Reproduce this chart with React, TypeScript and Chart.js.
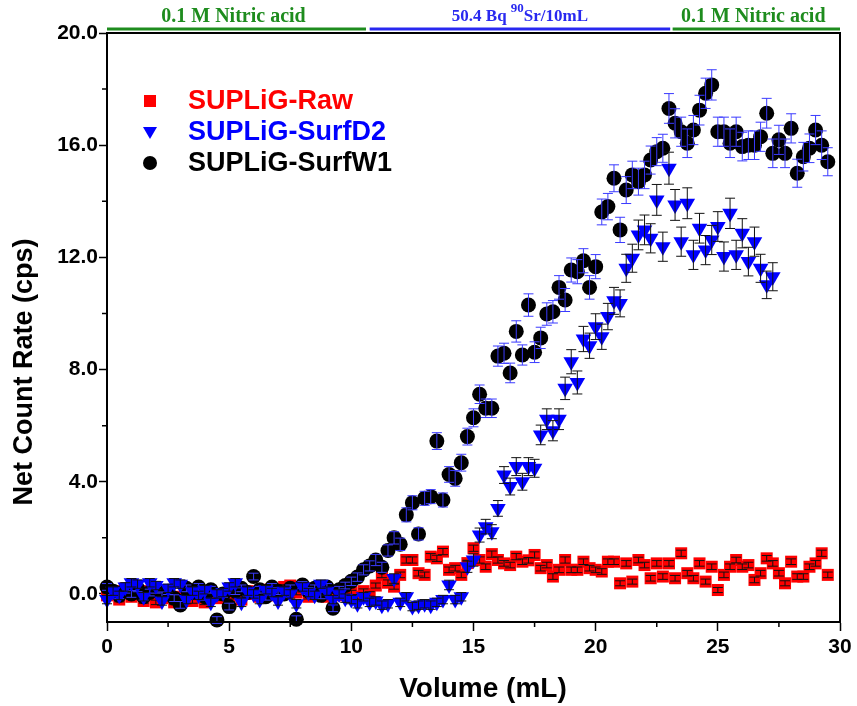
import React, { useEffect, useRef } from "react";
import { Chart, registerables } from "chart.js";

Chart.register(...registerables);

// ---------- data ----------
const VOLUME = [
  0, 0.25, 0.5, 0.75, 1, 1.25, 1.5, 1.75, 2, 2.25,
  2.5, 2.75, 3, 3.25, 3.5, 3.75, 4, 4.25, 4.5, 4.75,
  5, 5.25, 5.5, 5.75, 6, 6.25, 6.5, 6.75, 7, 7.25,
  7.5, 7.75, 8, 8.25, 8.5, 8.75, 9, 9.25, 9.5, 9.75,
  10, 10.25, 10.5, 10.75, 11, 11.25, 11.5, 11.75, 12, 12.25,
  12.5, 12.75, 13, 13.25, 13.5, 13.75, 14, 14.25, 14.5, 14.75,
  15, 15.25, 15.5, 15.75, 16, 16.25, 16.5, 16.75, 17, 17.25,
  17.5, 17.75, 18, 18.25, 18.5, 18.75, 19, 19.25, 19.5, 19.75,
  20, 20.25, 20.5, 20.75, 21, 21.25, 21.5, 21.75, 22, 22.25,
  22.5, 22.75, 23, 23.25, 23.5, 23.75, 24, 24.25, 24.5, 24.75,
  25, 25.25, 25.5, 25.75, 26, 26.25, 26.5, 26.75, 27, 27.25,
  27.5, 27.75, 28, 28.25, 28.5, 28.75, 29, 29.25, 29.5,
];

const RAW = [
  -0.05, 0.1, -0.2, 0.2, -0.1, 0.05, -0.25, 0.1, -0.3, -0.15,
  0.05, -0.3, -0.1, 0.15, -0.25, -0.05, -0.3, 0.1, -0.15, 0.0,
  -0.1, 0.05, -0.2, 0.1, 0.0, -0.1, 0.15, -0.05, 0.1, 0.25,
  0.3, 0.05, 0.15, -0.1, 0.2, 0.05, -0.1, 0.1, -0.05, 0.0,
  0.05, -0.1, 0.1, 0.0, 0.3, 0.68, 0.4, 0.26, 0.68, 1.21,
  1.21, 0.74, 0.68, 1.33, 1.27, 1.51, 0.86, 0.92, 0.68, 1.1,
  1.63, 1.21, 0.97, 1.42, 1.21, 1.09, 1.03, 1.33, 1.15, 1.2,
  1.39, 0.92, 1.03, 0.62, 0.86, 1.21, 0.86, 0.86, 1.15, 0.92,
  0.86, 0.8, 1.15, 1.15, 0.38, 1.09, 0.44, 1.21, 1.03, 0.56,
  1.09, 0.62, 1.09, 0.56, 1.45, 0.74, 0.56, 1.09, 0.44, 0.97,
  0.14, 0.68, 0.97, 1.21, 0.97, 1.03, 0.5, 0.74, 1.27, 1.09,
  0.74, 0.38, 1.15, 0.62, 0.62, 0.97, 1.09, 1.45, 0.68,
];
const RAW_ERR = [
  0.08, 0.08, 0.08, 0.08, 0.08, 0.08, 0.08, 0.08, 0.08, 0.08,
  0.08, 0.08, 0.08, 0.08, 0.08, 0.08, 0.08, 0.08, 0.08, 0.08,
  0.08, 0.08, 0.08, 0.08, 0.08, 0.08, 0.08, 0.08, 0.08, 0.08,
  0.08, 0.08, 0.08, 0.08, 0.08, 0.08, 0.08, 0.08, 0.08, 0.08,
  0.08, 0.08, 0.08, 0.08, 0.09, 0.1, 0.1, 0.09, 0.1, 0.11,
  0.11, 0.1, 0.1, 0.11, 0.11, 0.11, 0.1, 0.1, 0.1, 0.1,
  0.11, 0.11, 0.1, 0.11, 0.11, 0.1, 0.1, 0.11, 0.1, 0.1,
  0.11, 0.1, 0.1, 0.1, 0.1, 0.11, 0.1, 0.1, 0.1, 0.1,
  0.1, 0.1, 0.1, 0.1, 0.09, 0.1, 0.09, 0.1, 0.1, 0.1,
  0.1, 0.1, 0.1, 0.1, 0.11, 0.1, 0.1, 0.1, 0.09, 0.1,
  0.09, 0.1, 0.1, 0.1, 0.1, 0.1, 0.1, 0.1, 0.1, 0.1,
  0.1, 0.09, 0.1, 0.1, 0.1, 0.1, 0.1, 0.11, 0.1,
];

const SURF_D2 = [
  -0.2, 0.1, -0.05, 0.25, 0.4, 0.35, -0.1, 0.4, 0.3, -0.25,
  0.2, 0.4, 0.35, -0.2, 0.1, -0.05, 0.15, -0.3, 0.0, 0.05,
  0.25, 0.4, -0.3, 0.1, 0.0, -0.2, 0.15, 0.05, -0.25, 0.1,
  0.0, -0.35, 0.25, 0.05, -0.05, 0.35, 0.1, -0.2, 0.0, -0.15,
  -0.2, -0.35, -0.1, -0.3, -0.25, -0.4, -0.35, 0.55, -0.3, -0.1,
  -0.45, -0.4, -0.35, -0.4, -0.3, -0.2, 0.32, -0.2, -0.1, 0.97,
  1.21, 2.1, 2.4, 2.22, 3.05, 4.24, 3.83, 4.54, 4.0, 4.54,
  4.48, 5.67, 6.23, 5.82, 6.23, 7.33, 8.28, 7.54, 9.09, 8.85,
  9.53, 9.17, 9.89, 10.45, 10.36, 11.61, 11.97, 12.8, 12.98, 12.68,
  14.05, 12.38, 15.18, 13.87, 12.56, 13.93, 12.09, 13.04, 12.26, 12.62,
  13.1, 12.03, 13.57, 12.09, 12.86, 11.85, 12.56, 11.61, 11.02, 11.31,
  null, null, null, null, null, null, null, null, null,
];
const SURF_D2_ERR = [
  0.15, 0.15, 0.15, 0.15, 0.15, 0.15, 0.15, 0.15, 0.15, 0.15,
  0.15, 0.15, 0.15, 0.15, 0.15, 0.15, 0.15, 0.15, 0.15, 0.15,
  0.15, 0.15, 0.15, 0.15, 0.15, 0.15, 0.15, 0.15, 0.15, 0.15,
  0.15, 0.15, 0.15, 0.15, 0.15, 0.15, 0.15, 0.15, 0.15, 0.15,
  0.15, 0.15, 0.15, 0.15, 0.15, 0.15, 0.15, 0.17, 0.15, 0.15,
  0.15, 0.15, 0.15, 0.15, 0.15, 0.15, 0.17, 0.15, 0.15, 0.2,
  0.22, 0.25, 0.26, 0.25, 0.28, 0.3, 0.3, 0.32, 0.3, 0.32,
  0.32, 0.35, 0.37, 0.36, 0.37, 0.4, 0.43, 0.41, 0.45, 0.45,
  0.46, 0.45, 0.47, 0.48, 0.48, 0.5, 0.5, 0.53, 0.53, 0.52,
  0.55, 0.52, 0.57, 0.55, 0.52, 0.55, 0.52, 0.53, 0.52, 0.52,
  0.53, 0.52, 0.54, 0.52, 0.52, 0.51, 0.52, 0.5, 0.49, 0.5,
  null, null, null, null, null, null, null, null, null,
];

const SURF_W1 = [
  0.25, 0.1, -0.05, 0.15, 0.0, 0.2, -0.1, 0.05, 0.15, -0.05,
  0.1, -0.15, -0.39, 0.2, 0.05, 0.25, -0.1, 0.15, -0.93, 0.0,
  -0.45, 0.1, 0.2, 0.05, 0.62, 0.15, -0.1, 0.25, 0.1, 0.0,
  0.2, -0.9, 0.32, 0.1, 0.2, -0.05, 0.25, -0.51, 0.15, 0.3,
  0.45, 0.6, 0.86, 1.0, 1.21, 0.95, 1.55, 2.0, 1.77, 2.82,
  3.25, 2.14, 3.41, 3.47, 5.45, 3.35, 4.26, 4.12, 4.68, 5.61,
  6.28, 7.12, 6.62, 6.62, 8.48, 8.58, 7.88, 9.36, 8.52, 10.3,
  8.62, 9.13, 9.98, 10.06, 10.93, 10.48, 11.55, 11.49, 11.88, 10.93,
  11.67, 13.62, 13.81, 14.82, 12.98, 14.4, 14.94, 14.7, 14.94, 15.47,
  15.77, 15.89, 17.31, 16.78, 16.48, 16.07, 16.54, 17.25, 17.85, 18.15,
  16.48, 16.48, 16.07, 16.48, 15.95, 16.0, 16.0, 16.3, 17.14, 15.71,
  16.19, 15.71, 16.6, 15.0, 15.59, 15.89, 16.54, 16.0, 15.41,
];
const SURF_W1_ERR = [
  0.12, 0.12, 0.12, 0.12, 0.12, 0.12, 0.12, 0.12, 0.12, 0.12,
  0.12, 0.12, 0.12, 0.12, 0.12, 0.12, 0.12, 0.12, 0.12, 0.12,
  0.12, 0.12, 0.12, 0.12, 0.12, 0.12, 0.12, 0.12, 0.12, 0.12,
  0.12, 0.12, 0.12, 0.12, 0.12, 0.12, 0.12, 0.12, 0.12, 0.12,
  0.15, 0.15, 0.18, 0.18, 0.2, 0.18, 0.2, 0.22, 0.22, 0.25,
  0.25, 0.22, 0.25, 0.25, 0.3, 0.25, 0.28, 0.28, 0.3, 0.3,
  0.32, 0.33, 0.33, 0.33, 0.36, 0.36, 0.35, 0.38, 0.36, 0.4,
  0.37, 0.38, 0.4, 0.4, 0.42, 0.41, 0.43, 0.43, 0.43, 0.42,
  0.43, 0.46, 0.47, 0.48, 0.45, 0.48, 0.49, 0.48, 0.49, 0.5,
  0.5, 0.5, 0.53, 0.52, 0.52, 0.51, 0.52, 0.53, 0.54, 0.54,
  0.52, 0.52, 0.51, 0.52, 0.51, 0.51, 0.51, 0.52, 0.53, 0.51,
  0.52, 0.51, 0.52, 0.5, 0.51, 0.51, 0.52, 0.51, 0.5,
];

const SERIES_NAMES = ["SUPLiG-Raw", "SUPLiG-SurfD2", "SUPLiG-SurfW1"];
const X_TITLE = "Volume (mL)";
const Y_TITLE = "Net Count Rate (cps)";
const Y_TICKS = [0, 4, 8, 12, 16, 20];
const Y_MINOR = [2, 6, 10, 14, 18];
const X_TICKS = [0, 5, 10, 15, 20, 25, 30];
const X_MINOR = [2.5, 7.5, 12.5, 17.5, 22.5, 27.5];

// eluent phases along the top: start mL, end mL, label
const PHASE_START = [0, 10.75, 23.15];
const PHASE_END = [10.6, 23.05, 30];
const PHASE_LABELS = ["0.1 M Nitric acid", "50.4 Bq |90|Sr/10mL", "0.1 M Nitric acid"];

const RED = "#ff0000";
const BLUE = "#0000ff";
const BLACK = "#000000";
const GREEN = "#1e8c1e";
const PHASE_BLUE = "#2828f0";
const PHASE_COLORS = [GREEN, PHASE_BLUE, GREEN];

function buildPoints(vals: (number | null)[], errs: (number | null)[]) {
  const out: { x: number; y: number; e: number }[] = [];
  for (let i = 0; i < VOLUME.length; i++) {
    const v = vals[i];
    if (v === null || v === undefined) continue;
    out.push({ x: VOLUME[i], y: v, e: (errs[i] as number) || 0 });
  }
  return out;
}

const SANS = "'Liberation Sans', Arial, sans-serif";
const SERIF = "'Liberation Serif', 'Times New Roman', serif";

const customPlugin = {
  id: "customDecor",
  afterDatasetDraw(chart: any, args: any) {
    const ds = chart.data.datasets[args.index];
    const xs = chart.scales.x;
    const ys = chart.scales.y;
    const ctx = chart.ctx;
    ctx.save();
    ctx.strokeStyle = ds.errorColor;
    ctx.lineWidth = 1;
    for (const p of ds.data) {
      const px = xs.getPixelForValue(p.x);
      const t = ys.getPixelForValue(p.y + p.e);
      const b = ys.getPixelForValue(p.y - p.e);
      ctx.beginPath();
      ctx.moveTo(px, t);
      ctx.lineTo(px, b);
      ctx.moveTo(px - 5, t);
      ctx.lineTo(px + 5, t);
      ctx.moveTo(px - 5, b);
      ctx.lineTo(px + 5, b);
      ctx.stroke();
    }
    ctx.restore();
  },
  afterDraw(chart: any) {
    const ctx = chart.ctx;
    const area = chart.chartArea;
    const xs = chart.scales.x;
    const ys = chart.scales.y;
    ctx.save();
    // frame
    ctx.strokeStyle = "#000";
    ctx.lineWidth = 2;
    ctx.strokeRect(area.left, area.top, area.right - area.left, area.bottom - area.top);
    // minor ticks
    ctx.lineWidth = 1.5;
    ctx.beginPath();
    for (const v of Y_MINOR) {
      const py = ys.getPixelForValue(v);
      ctx.moveTo(area.left, py);
      ctx.lineTo(area.left - 5, py);
    }
    for (const v of X_MINOR) {
      const px = xs.getPixelForValue(v);
      ctx.moveTo(px, area.bottom);
      ctx.lineTo(px, area.bottom + 5);
    }
    ctx.stroke();

    // axis titles
    ctx.fillStyle = "#000";
    ctx.textAlign = "center";
    ctx.textBaseline = "middle";
    ctx.font = `bold 28px ${SANS}`;
    ctx.fillText(X_TITLE, 483, 689);
    ctx.save();
    ctx.translate(25, 372);
    ctx.rotate(-Math.PI / 2);
    ctx.font = `bold 27px ${SANS}`;
    ctx.fillText(Y_TITLE, 0, 0);
    ctx.restore();

    // phase bars along the top
    const lineY = area.top - 4;
    for (let i = 0; i < PHASE_LABELS.length; i++) {
      const x1 = xs.getPixelForValue(PHASE_START[i]);
      const x2 = xs.getPixelForValue(PHASE_END[i]);
      ctx.strokeStyle = PHASE_COLORS[i];
      ctx.lineWidth = 3;
      ctx.beginPath();
      ctx.moveTo(x1, lineY);
      ctx.lineTo(x2, lineY);
      ctx.stroke();
      const cx = (x1 + x2) / 2;
      ctx.fillStyle = PHASE_COLORS[i];
      ctx.textBaseline = "alphabetic";
      const parts = PHASE_LABELS[i].split("|");
      if (parts.length === 1) {
        ctx.font = `bold 20px ${SERIF}`;
        ctx.textAlign = "center";
        ctx.fillText(parts[0], cx - 3, 22);
      } else {
        const mainFont = `bold 17px ${SERIF}`;
        const supFont = `bold 13px ${SERIF}`;
        ctx.font = mainFont;
        const w0 = ctx.measureText(parts[0]).width;
        const w2 = ctx.measureText(parts[2]).width;
        ctx.font = supFont;
        const w1 = ctx.measureText(parts[1]).width;
        let x = cx - (w0 + w1 + w2) / 2;
        ctx.textAlign = "left";
        ctx.font = mainFont;
        ctx.fillText(parts[0], x, 21);
        x += w0;
        ctx.font = supFont;
        ctx.fillText(parts[1], x, 12);
        x += w1;
        ctx.font = mainFont;
        ctx.fillText(parts[2], x, 21);
      }
    }

    // legend
    const legendColors = [RED, BLUE, BLACK];
    const legendY = [101, 132, 163];
    const mx = 150;
    for (let i = 0; i < SERIES_NAMES.length; i++) {
      const y = legendY[i];
      ctx.fillStyle = legendColors[i];
      ctx.beginPath();
      if (i === 0) {
        ctx.rect(mx - 6, y - 6, 12, 12);
      } else if (i === 1) {
        ctx.moveTo(mx - 7, y - 5);
        ctx.lineTo(mx + 7, y - 5);
        ctx.lineTo(mx, y + 7);
        ctx.closePath();
      } else {
        ctx.arc(mx, y, 7, 0, Math.PI * 2);
      }
      ctx.fill();
      ctx.font = `bold 27px ${SANS}`;
      ctx.textAlign = "left";
      ctx.textBaseline = "middle";
      ctx.fillText(SERIES_NAMES[i], 188, y + 1);
    }
    ctx.restore();
  },
};

export default function App() {
  const ref = useRef<HTMLCanvasElement | null>(null);
  useEffect(() => {
    if (!ref.current) return;
    const tickFont = { family: SANS, size: 21, weight: "bold" as const };
    const chart = new Chart(ref.current, {
      type: "scatter",
      data: {
        datasets: [
          {
            label: SERIES_NAMES[1],
            data: buildPoints(SURF_D2, SURF_D2_ERR),
            pointStyle: "triangle",
            rotation: 180,
            pointRadius: 9,
            pointBackgroundColor: BLUE,
            pointBorderColor: BLUE,
            pointBorderWidth: 0,
            showLine: false,
            order: 0,
            clip: false,
            errorColor: "#111111",
          } as any,
          {
            label: SERIES_NAMES[2],
            data: buildPoints(SURF_W1, SURF_W1_ERR),
            pointStyle: "circle",
            pointRadius: 7.5,
            pointBackgroundColor: BLACK,
            pointBorderColor: BLACK,
            pointBorderWidth: 0,
            showLine: false,
            order: 1,
            clip: false,
            errorColor: "#3a3aff",
          } as any,
          {
            label: SERIES_NAMES[0],
            data: buildPoints(RAW, RAW_ERR),
            pointStyle: "rect",
            pointRadius: 8.5,
            pointBackgroundColor: RED,
            pointBorderColor: RED,
            pointBorderWidth: 0,
            showLine: false,
            order: 2,
            clip: false,
            errorColor: "#111111",
          } as any,
        ],
      },
      options: {
        responsive: false,
        animation: false,
        events: [],
        layout: { padding: { left: 0, top: 33, right: 17, bottom: 0 } },
        plugins: {
          legend: { display: false },
          tooltip: { enabled: false },
        },
        scales: {
          x: {
            type: "linear",
            min: 0,
            max: 30,
            afterBuildTicks: (s: any) => {
              s.ticks = X_TICKS.map((v) => ({ value: v }));
            },
            afterFit: (s: any) => {
              s.height = 84;
            },
            ticks: {
              color: "#000",
              font: tickFont,
              padding: 4,
              maxRotation: 0,
              autoSkip: false,
              callback: (v: any) => String(v),
            },
            grid: {
              drawOnChartArea: false,
              drawTicks: true,
              tickLength: 9,
              tickWidth: 1.5,
              tickColor: "#000",
            },
            border: { display: true, color: "#000", width: 2 },
            title: { display: false },
          },
          y: {
            type: "linear",
            min: -1,
            max: 20,
            afterBuildTicks: (s: any) => {
              s.ticks = Y_TICKS.map((v) => ({ value: v }));
            },
            afterFit: (s: any) => {
              s.width = 107;
            },
            ticks: {
              color: "#000",
              font: tickFont,
              padding: 1,
              autoSkip: false,
              callback: (v: any) => Number(v).toFixed(1),
            },
            grid: {
              drawOnChartArea: false,
              drawTicks: true,
              tickLength: 8,
              tickWidth: 1.5,
              tickColor: "#000",
            },
            border: { display: true, color: "#000", width: 2 },
            title: { display: false },
          },
        },
      },
      plugins: [customPlugin],
    });
    return () => chart.destroy();
  }, []);
  return (
    <div style={{ position: "fixed", left: 0, top: 0, width: 857, height: 706, background: "#fff" }}>
      <canvas ref={ref} width={857} height={706} style={{ display: "block" }} />
    </div>
  );
}
